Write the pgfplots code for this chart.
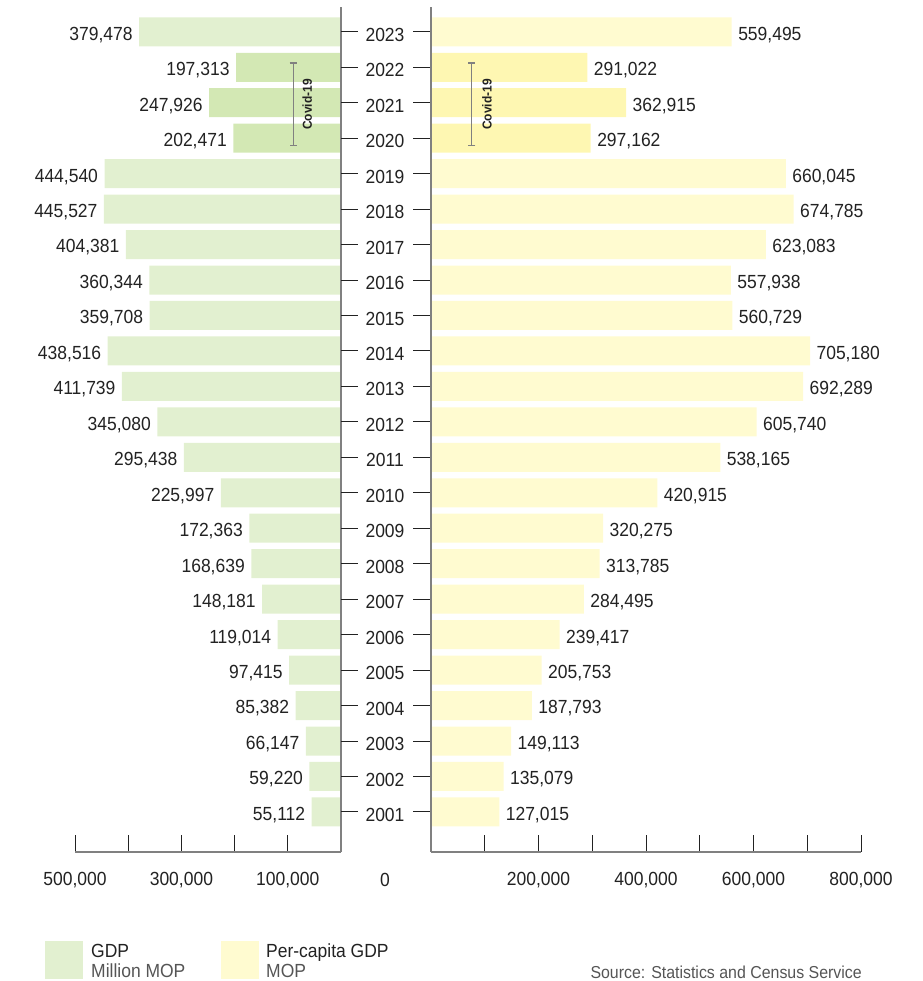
\documentclass[border=0pt]{standalone}
\usepackage{fontspec}
\setmainfont{Liberation Sans}[FakeStretch=0.92]
\usepackage{pgfplots}
\pgfplotsset{compat=1.18}
\usepackage{pgfplotstable}
\usetikzlibrary{arrows.meta}

\definecolor{gdpc}{HTML}{E2F0D0}
\definecolor{gdpcov}{HTML}{D3E8B4}
\definecolor{pcc}{HTML}{FFFBD0}
\definecolor{pccov}{HTML}{FEF7B2}
\definecolor{axisgray}{HTML}{808080}
\definecolor{txt}{HTML}{222222}
\definecolor{subtxt}{HTML}{555555}

% year, GDP (million MOP), per-capita GDP (MOP)
\pgfplotstableread{
year gdp pc
2001 55112 127015
2002 59220 135079
2003 66147 149113
2004 85382 187793
2005 97415 205753
2006 119014 239417
2007 148181 284495
2008 168639 313785
2009 172363 320275
2010 225997 420915
2011 295438 538165
2012 345080 605740
2013 411739 692289
2014 438516 705180
2015 359708 560729
2016 360344 557938
2017 404381 623083
2018 445527 674785
2019 444540 660045
2023 379478 559495
}\regular
\pgfplotstableread{
year gdp pc
2020 202471 297162
2021 247926 362915
2022 197313 291022
}\covid

\pgfplotsset{
  butterfly/.style={
    scale only axis, anchor=south west,
    height=845pt, ymin=1999.87, ymax=2023.7,
    xbar, bar width=29pt, bar shift=0pt,
    axis x line*=bottom, axis y line=none,
    x axis line style={draw=axisgray, line width=1.2pt},
    tick align=inside, major tick length=17pt,
    scaled x ticks=false,
    xtick style={draw=txt, line width=0.9pt},
    xticklabel style={font=\fontsize{19}{22}\selectfont, text=txt, yshift=-17pt},
    nodes near coords={\pgfmathprintnumber[fixed, precision=0, 1000 sep={,}, assume math mode=true]{\pgfplotspointmeta}},
    every node near coord/.append style={font=\fontsize{19}{22}\selectfont, text=txt, yshift=-3pt},
    clip=false,
  },
}

\begin{document}
\begin{tikzpicture}[font=\fontsize{19}{22}\selectfont, text=txt]
\useasboundingbox (0,0) rectangle (922pt,981pt);

% GDP, growing to the left
\begin{axis}[butterfly, at={(75pt,129pt)}, width=266pt,
  x dir=reverse, xmin=0, xmax=500000,
  xtick={0,100000,200000,300000,400000,500000},
  xticklabels={{},{100,000},{},{300,000},{},{500,000}},
  every node near coord/.append style={anchor=east, xshift=-3pt},
]
\addplot[fill=gdpc, draw=none] table[x=gdp, y=year] {\regular};
\addplot[fill=gdpcov, draw=none] table[x=gdp, y=year] {\covid};
\draw[axisgray, line width=1.2pt] (axis cs:0,1999.87) -- (axis cs:0,2023.7);
\pgfplotsinvokeforeach{2001,...,2023}{
  \draw[txt, line width=1pt] ([xshift=0pt]axis cs:0,#1) -- ([xshift=17pt]axis cs:0,#1);
  \draw[txt, line width=1pt] ([xshift=72pt]axis cs:0,#1) -- ([xshift=90pt]axis cs:0,#1);
  \node at ([xshift=44pt, yshift=-3pt]axis cs:0,#1) {#1};
}
\draw[axisgray, line width=1.2pt, {Bar[width=7pt]}-{Bar[width=7pt]}]
  (axis cs:90000,2019.77) -- (axis cs:90000,2022.14);
\node[rotate=90, font=\bfseries\fontsize{13}{15}\selectfont]
  at ([xshift=14pt]axis cs:90000,2020.95) {Covid-19};
\node at ([xshift=44pt, yshift=-28pt]axis cs:0,1999.87) {0};
\end{axis}

% Per-capita GDP, growing to the right
\begin{axis}[butterfly, at={(431pt,129pt)}, width=430pt,
  xmin=0, xmax=800000,
  xtick={0,100000,200000,300000,400000,500000,600000,700000,800000},
  xticklabels={{},{},{200,000},{},{400,000},{},{600,000},{},{800,000}},
  every node near coord/.append style={anchor=west, xshift=3pt},
]
\addplot[fill=pcc, draw=none] table[x=pc, y=year] {\regular};
\addplot[fill=pccov, draw=none] table[x=pc, y=year] {\covid};
\draw[axisgray, line width=1.2pt] (axis cs:0,1999.87) -- (axis cs:0,2023.7);
\draw[axisgray, line width=1.2pt, {Bar[width=7pt]}-{Bar[width=7pt]}]
  (axis cs:76000,2019.77) -- (axis cs:76000,2022.14);
\node[rotate=90, font=\bfseries\fontsize{13}{15}\selectfont]
  at ([xshift=15pt]axis cs:76000,2020.95) {Covid-19};
\end{axis}

% legend and source
\fill[gdpc] (45pt,2pt) rectangle (83pt,40pt);
\node[anchor=base west, inner sep=0pt] at (91pt,23pt) {GDP};
\node[anchor=base west, inner sep=0pt, text=subtxt] at (91pt,3pt) {Million MOP};
\fill[pcc] (221pt,2pt) rectangle (259pt,40pt);
\node[anchor=base west, inner sep=0pt] at (266pt,23pt) {Per-capita GDP};
\node[anchor=base west, inner sep=0pt, text=subtxt] at (266pt,3pt) {MOP};
\node[anchor=base east, inner sep=0pt, text=subtxt, font=\fontsize{17.3}{20}\selectfont] at (862pt,2pt) {Source: Statistics and Census Service};
\end{tikzpicture}
\end{document}
